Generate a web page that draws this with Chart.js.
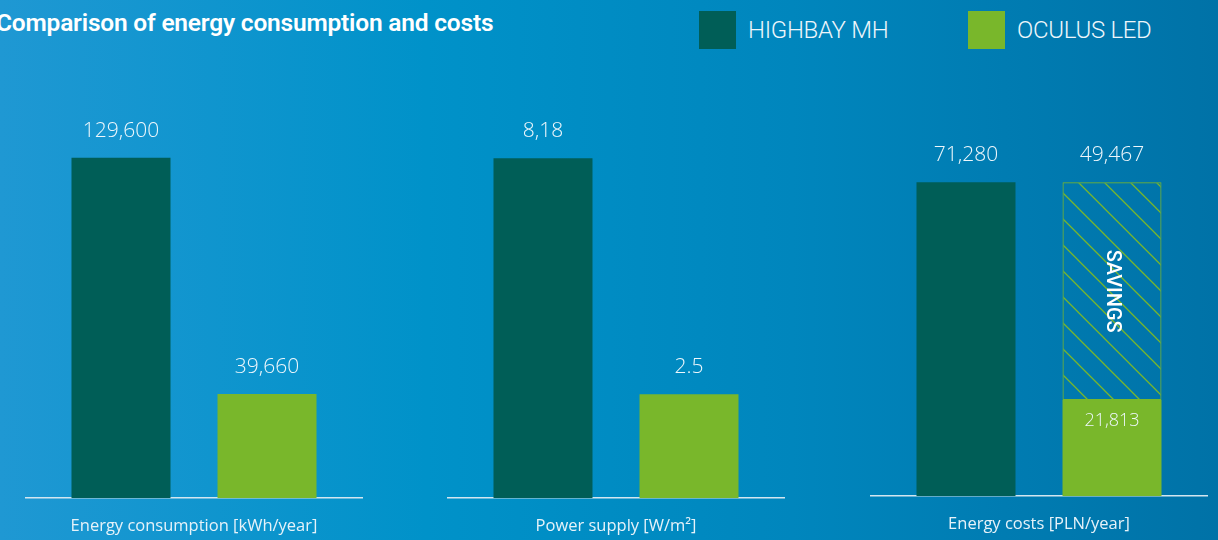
<!DOCTYPE html>
<html>
<head>
<meta charset="utf-8">
<script src="https://cdn.jsdelivr.net/npm/chart.js@4.4.1/dist/chart.umd.min.js"></script>
<style>
  html, body { margin: 0; padding: 0; }
  body {
    width: 1218px; height: 540px; overflow: hidden; position: relative;
    background: linear-gradient(90deg, #1f98d3 0%, #0092c9 35%, #0086bd 65%, #0072a7 100%);
    font-family: "Open Sans", sans-serif;
  }
  #title {
    position: absolute; left: -4px; top: 8px;
    color: #fff; font: 600 24.5px Roboto, sans-serif; letter-spacing: -0.2px;
  }
  .leg { position: absolute; top: 11px; height: 38px; display: flex; align-items: center; }
  .leg span.sw { width: 37px; height: 38px; display: inline-block; }
  .leg span.tx { color: #eef6fb; font: 300 24px Roboto, sans-serif; margin-left: 12px; letter-spacing: -0.3px; }
  canvas { position: absolute; top: 0; }
</style>
</head>
<body>
<div id="title">Comparison of energy consumption and costs</div>
<div class="leg" style="left:699px"><span class="sw" style="background:#005e57"></span><span class="tx">HIGHBAY MH</span></div>
<div class="leg" style="left:968px"><span class="sw" style="background:#79b72b"></span><span class="tx">OCULUS LED</span></div>

<canvas id="c0" width="338" height="554" style="left:25px"></canvas>
<canvas id="c1" width="338" height="554" style="left:447px"></canvas>
<canvas id="c2" width="338" height="552" style="left:870px"></canvas>

<script>
// data
const categories = ['Energy consumption [kWh/year]', 'Power supply [W/m²]', 'Energy costs [PLN/year]'];
const highbay = [129600, 8.18, 71280];
const oculus = [39660, 2.5, 21813];
const savings = [null, null, 49467];
const highbayLabels = ['129,600', '8,18', '71,280'];
const oculusLabels = ['39,660', '2.5', '21,813'];
const savingsLabels = ['', '', '49,467'];
const axisMax = [144000, 9.1, 85400];

const darkGreen = '#005e57';
const lightGreen = '#79b72b';

function hatch() {
  const s = 26;
  const c = document.createElement('canvas');
  c.width = s; c.height = s;
  const g = c.getContext('2d');
  g.strokeStyle = lightGreen;
  g.lineWidth = 1.3;
  g.beginPath();
  g.moveTo(0, 0); g.lineTo(s, s);
  g.moveTo(-s / 2, s / 2); g.lineTo(s / 2, s * 1.5);
  g.moveTo(s / 2, -s / 2); g.lineTo(s * 1.5, s / 2);
  g.stroke();
  return g.createPattern(c, 'repeat');
}

const valueLabels = {
  id: 'valueLabels',
  afterDatasetsDraw(chart) {
    const ctx = chart.ctx;
    chart.data.datasets.forEach((ds, i) => {
      const meta = chart.getDatasetMeta(i);
      meta.data.forEach((bar, j) => {
        const txt = ds.valueText[j];
        if (!txt) return;
        ctx.save();
        ctx.fillStyle = '#eef7fc';
        ctx.textAlign = 'center';
        ctx.textBaseline = 'middle';
        if (ds.inside) {
          ctx.font = '300 18px "Open Sans", sans-serif';
          ctx.fillText(txt, bar.x, bar.y + 21);
        } else {
          ctx.font = '300 21px "Open Sans", sans-serif';
          ctx.fillText(txt, bar.x, bar.y - 27);
        }
        if (ds.sideText) {
          ctx.translate(bar.x, (bar.y + bar.base) / 2);
          ctx.rotate(Math.PI / 2);
          ctx.font = '500 20px Roboto, sans-serif';
          ctx.fillStyle = '#ffffff';
          ctx.fillText(ds.sideText, 0, 0);
        }
        ctx.restore();
      });
    });
  }
};

categories.forEach((cat, k) => {
  const datasets = [
    { label: 'HIGHBAY MH', data: [highbay[k]], backgroundColor: darkGreen, stack: 'a', valueText: [highbayLabels[k]] },
    { label: 'OCULUS LED', data: [oculus[k]], backgroundColor: lightGreen, stack: 'b', valueText: [oculusLabels[k]], inside: savings[k] != null }
  ];
  if (savings[k] != null) {
    datasets.push({
      label: 'SAVINGS', data: [savings[k]], backgroundColor: hatch(), borderColor: lightGreen,
      borderWidth: 1, borderSkipped: false, stack: 'b', valueText: [savingsLabels[k]], sideText: 'SAVINGS'
    });
  }
  new Chart(document.getElementById('c' + k), {
    type: 'bar',
    data: { labels: [cat], datasets: datasets },
    options: {
      responsive: false,
      animation: false,
      layout: { padding: { top: 120, bottom: 0, left: 0, right: 0 } },
      categoryPercentage: 0.864,
      barPercentage: 0.678,
      plugins: { legend: { display: false }, tooltip: { enabled: false } },
      scales: {
        x: {
          grid: { display: false, drawTicks: false },
          border: { display: true, color: '#d3e6f0', width: 1.5 },
          ticks: { color: '#e6f2f9', padding: 18, font: { family: '"Open Sans", sans-serif', size: 16.5 } }
        },
        y: { display: false, stacked: true, min: 0, max: axisMax[k] }
      }
    },
    plugins: [valueLabels]
  });
});
</script>
</body>
</html>
